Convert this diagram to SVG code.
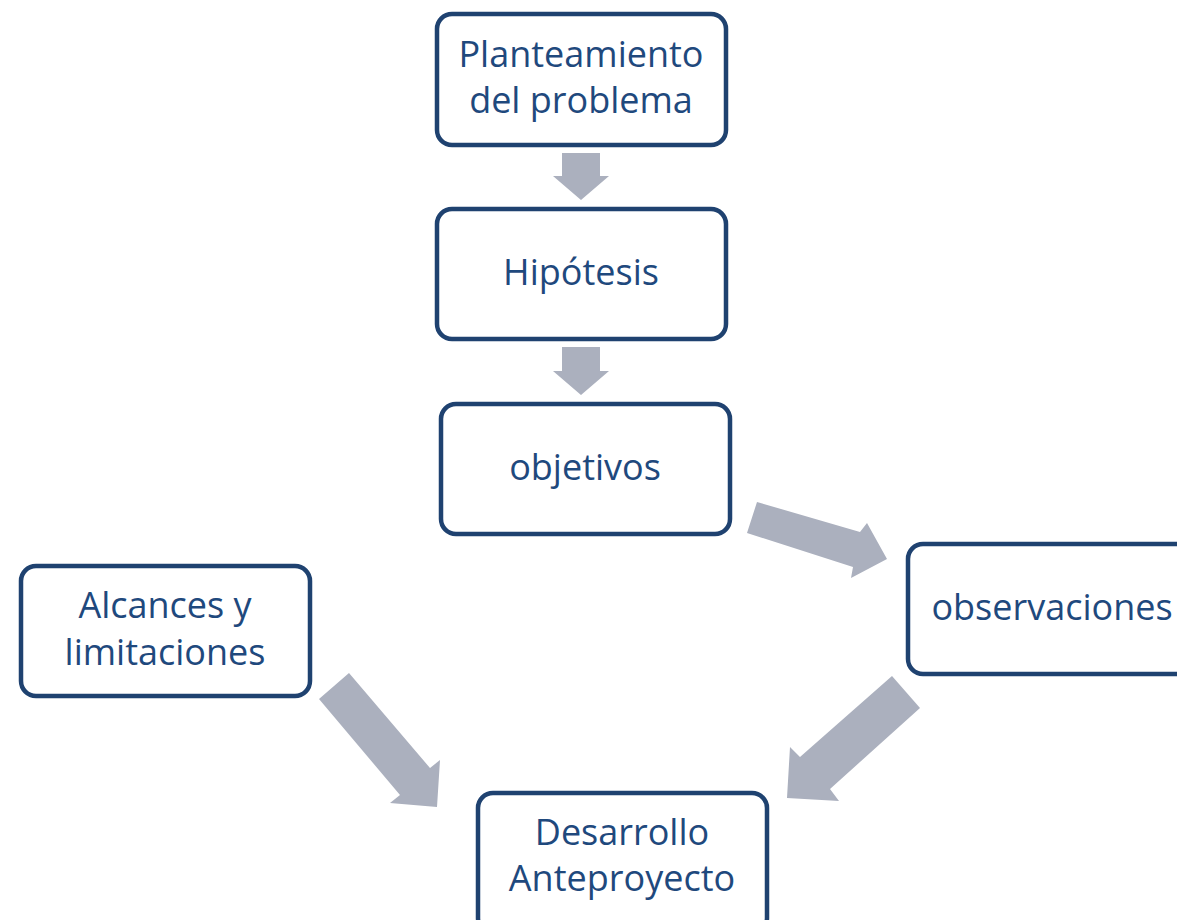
<svg xmlns="http://www.w3.org/2000/svg" width="1177" height="920" viewBox="0 0 1177 920">
<style>
.box{fill:#fff;stroke:#1f4270;stroke-width:4.5}
.t{font-family:"Open Sans","Noto Sans",sans-serif;font-size:36px;fill:#1f497d;text-anchor:middle}
.arr{fill:#abb0be}
</style>
<rect width="1177" height="920" fill="#fff"/>
<g id="connectors">
<polygon class="arr" points="562,153 600,153 600,176 609,176 581,200 553,176 562,176"/>
<polygon class="arr" points="562,347 600,347 600,371 609,371 581,395 553,371 562,371"/>
<polygon class="arr" points="757,502 860,532 867,523 887,559 851,578 853,567 747,533"/>
<polygon class="arr" points="892,676 920,708 830,789 839,801 787,798 790,747 800,757"/>
<polygon class="arr" points="349,673 430,768 440,760 437,807 390,803 400,795 319,699"/>
</g>
<g id="n1"><rect class="box" x="437" y="14" width="289" height="131" rx="15"/>
<text class="t" x="581" y="67">Planteamiento</text><text class="t" x="581" y="113">del problema</text></g>
<g id="n2"><rect class="box" x="437" y="209" width="289" height="130" rx="15"/>
<text class="t" x="581" y="285">Hipótesis</text></g>
<g id="n3"><rect class="box" x="441" y="404" width="289" height="130" rx="15"/>
<text class="t" x="585" y="480">objetivos</text></g>
<g id="n4"><rect class="box" x="908" y="544" width="300" height="130" rx="15"/>
<text class="t" x="1052" y="620">observaciones</text></g>
<g id="n5"><rect class="box" x="21" y="566" width="289" height="130" rx="15"/>
<text class="t" x="165" y="618">Alcances y</text><text class="t" x="165" y="665">limitaciones</text></g>
<g id="n6"><rect class="box" x="478" y="793" width="289" height="140" rx="15"/>
<text class="t" x="622" y="845">Desarrollo</text><text class="t" x="622" y="891">Anteproyecto</text></g>
</svg>
